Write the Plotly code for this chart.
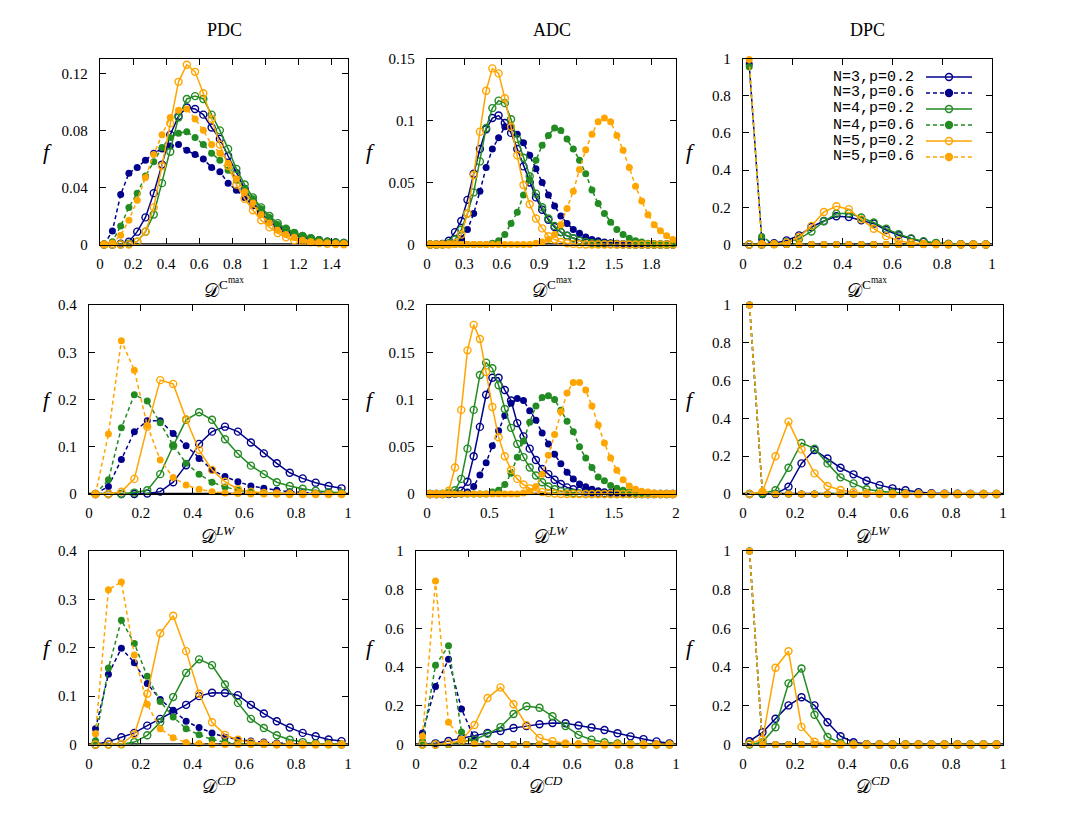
import plotly.graph_objects as go

W, H = 1090, 817

# ---------------- bin centres ----------------
x20 = [0.025, 0.075, 0.125, 0.175, 0.225, 0.275, 0.325, 0.375, 0.425, 0.475,
       0.525, 0.575, 0.625, 0.675, 0.725, 0.775, 0.825, 0.875, 0.925, 0.975]
x30 = x20 + [1.025, 1.075, 1.125, 1.175, 1.225, 1.275, 1.325, 1.375, 1.425, 1.475]
x40 = x30 + [1.525, 1.575, 1.625, 1.675, 1.725, 1.775, 1.825, 1.875, 1.925, 1.975]

series_names = ["N=3,p=0.2", "N=3,p=0.6", "N=4,p=0.2", "N=4,p=0.6", "N=5,p=0.2", "N=5,p=0.6"]
column_titles = ["PDC", "ADC", "DPC"]

# ---------------- row 1 : D^{C max} ----------------
pdc_cmax_n3_p02 = [0, 0, 0.0005, 0.002, 0.009, 0.019, 0.036, 0.056, 0.077, 0.090,
                   0.096, 0.095, 0.091, 0.082, 0.074, 0.062, 0.050, 0.039, 0.030, 0.022,
                   0.016, 0.012, 0.009, 0.007, 0.0055, 0.004, 0.003, 0.002, 0.0015, 0.001]
pdc_cmax_n3_p06 = [0, 0.0095, 0.035, 0.050, 0.054, 0.059, 0.064, 0.067, 0.069, 0.070,
                   0.066, 0.063, 0.060, 0.054, 0.051, 0.043, 0.038, 0.033, 0.027, 0.021,
                   0.016, 0.012, 0.009, 0.007, 0.005, 0.004, 0.003, 0.002, 0.0015, 0.001]
pdc_cmax_n4_p02 = [0, 0, 0, 0.0005, 0.002, 0.009, 0.021, 0.043, 0.065, 0.089,
                   0.102, 0.104, 0.102, 0.091, 0.080, 0.067, 0.053, 0.042, 0.033, 0.026,
                   0.020, 0.015, 0.011, 0.008, 0.006, 0.0045, 0.003, 0.002, 0.0015, 0.001]
pdc_cmax_n4_p06 = [0, 0.002, 0.013, 0.026, 0.036, 0.048, 0.058, 0.068, 0.075, 0.078,
                   0.079, 0.075, 0.070, 0.064, 0.059, 0.052, 0.045, 0.039, 0.032, 0.025,
                   0.019, 0.014, 0.011, 0.0085, 0.0063, 0.0045, 0.003, 0.002, 0.0015, 0.001]
pdc_cmax_n5_p02 = [0, 0, 0, 0, 0.002, 0.009, 0.026, 0.055, 0.085, 0.114,
                   0.126, 0.121, 0.106, 0.088, 0.070, 0.055, 0.042, 0.032, 0.024, 0.017,
                   0.012, 0.008, 0.005, 0.003, 0.002, 0.0015, 0.001, 0.0005, 0.0003, 0.0002]
pdc_cmax_n5_p06 = [0, 0.001, 0.0065, 0.017, 0.031, 0.047, 0.063, 0.077, 0.089, 0.094,
                   0.095, 0.088, 0.080, 0.070, 0.064, 0.057, 0.046, 0.037, 0.029, 0.021,
                   0.015, 0.010, 0.007, 0.005, 0.003, 0.002, 0.0015, 0.001, 0.0005, 0.0003]

adc_cmax_n3_p02 = [0, 0, 0.0005, 0.003, 0.010, 0.019, 0.036, 0.057, 0.077, 0.093,
                   0.102, 0.104, 0.098, 0.090, 0.077, 0.063, 0.050, 0.038, 0.028, 0.020,
                   0.014, 0.010, 0.007, 0.005, 0.0035, 0.0025, 0.0018, 0.0012, 0.0008, 0.0005,
                   0.0003, 0.0002, 0.0001, 0, 0, 0, 0, 0, 0, 0]
adc_cmax_n3_p06 = [0, 0, 0, 0, 0.001, 0.005, 0.012, 0.025, 0.043, 0.062,
                   0.077, 0.086, 0.095, 0.094, 0.089, 0.082, 0.072, 0.061, 0.050, 0.040,
                   0.031, 0.023, 0.017, 0.012, 0.009, 0.006, 0.004, 0.003, 0.002, 0.0015,
                   0.001, 0.0007, 0.0005, 0.0003, 0.0002, 0.0001, 0, 0, 0, 0]
adc_cmax_n4_p02 = [0, 0, 0, 0.001, 0.004, 0.012, 0.025, 0.042, 0.067, 0.094,
                   0.110, 0.116, 0.114, 0.101, 0.085, 0.070, 0.055, 0.041, 0.030, 0.021,
                   0.015, 0.010, 0.007, 0.005, 0.003, 0.002, 0.0013, 0.0008, 0.0005, 0.0003,
                   0.0002, 0.0001, 0, 0, 0, 0, 0, 0, 0, 0]
adc_cmax_n4_p06 = [0, 0, 0, 0, 0, 0, 0, 0, 0, 0,
                   0.001, 0.003, 0.008, 0.017, 0.026, 0.040, 0.052, 0.068, 0.080, 0.088,
                   0.094, 0.092, 0.085, 0.077, 0.068, 0.057, 0.044, 0.033, 0.025, 0.018,
                   0.012, 0.008, 0.005, 0.003, 0.002, 0.001, 0.0005, 0.0003, 0.0002, 0.0001]
adc_cmax_n5_p02 = [0, 0, 0, 0, 0.001, 0.008, 0.025, 0.056, 0.091, 0.124,
                   0.142, 0.138, 0.118, 0.095, 0.072, 0.048, 0.0325, 0.021, 0.013, 0.0067,
                   0.004, 0.002, 0.001, 0.0005, 0.0002, 0, 0, 0, 0, 0,
                   0, 0, 0, 0, 0, 0, 0, 0, 0, 0]
adc_cmax_n5_p06 = [0, 0, 0, 0, 0, 0, 0, 0, 0, 0,
                   0, 0, 0, 0, 0, 0, 0, 0.001, 0.002, 0.004,
                   0.008, 0.016, 0.029, 0.043, 0.0605, 0.0765, 0.089, 0.099, 0.102, 0.099,
                   0.088, 0.076, 0.062, 0.047, 0.035, 0.024, 0.016, 0.011, 0.007, 0.004]

dpc_cmax_n3_p02 = [0, 0, 0.007, 0.022, 0.049, 0.094, 0.126, 0.152, 0.148, 0.130,
                   0.112, 0.078, 0.050, 0.031, 0.014, 0.007, 0.003, 0.001, 0, 0]
dpc_cmax_n3_p06 = [0.97, 0.03, 0, 0, 0, 0, 0, 0, 0, 0, 0, 0, 0, 0, 0, 0, 0, 0, 0, 0]
dpc_cmax_n4_p02 = [0, 0, 0.003, 0.012, 0.030, 0.070, 0.125, 0.165, 0.168, 0.145,
                   0.118, 0.085, 0.056, 0.033, 0.018, 0.008, 0.003, 0.001, 0, 0]
dpc_cmax_n4_p06 = [0.955, 0.043, 0, 0, 0, 0, 0, 0, 0, 0, 0, 0, 0, 0, 0, 0, 0, 0, 0, 0]
dpc_cmax_n5_p02 = [0, 0, 0.001, 0.010, 0.040, 0.100, 0.175, 0.206, 0.190, 0.135,
                   0.085, 0.045, 0.020, 0.008, 0.003, 0.001, 0, 0, 0, 0]
dpc_cmax_n5_p06 = [0.995, 0.005, 0, 0, 0, 0, 0, 0, 0, 0, 0, 0, 0, 0, 0, 0, 0, 0, 0, 0]

# ---------------- row 2 : D^{LW} ----------------
pdc_lw_n3_p02 = [0, 0, 0, 0, 0.001, 0.005, 0.025, 0.061, 0.106, 0.132,
                 0.1425, 0.132, 0.109, 0.086, 0.065, 0.045, 0.033, 0.024, 0.017, 0.012]
pdc_lw_n3_p06 = [0, 0.016, 0.073, 0.132, 0.155, 0.155, 0.128, 0.102, 0.075, 0.051,
                 0.037, 0.026, 0.017, 0.012, 0.008, 0.005, 0.003, 0.002, 0.001, 0.0005]
pdc_lw_n4_p02 = [0, 0, 0, 0.003, 0.008, 0.042, 0.102, 0.157, 0.173, 0.157,
                 0.116, 0.085, 0.060, 0.042, 0.025, 0.017, 0.011, 0.007, 0.004, 0.002]
pdc_lw_n4_p06 = [0, 0.030, 0.140, 0.210, 0.197, 0.151, 0.103, 0.065, 0.042, 0.025,
                 0.015, 0.008, 0.004, 0.002, 0.001, 0.0005, 0, 0, 0, 0]
pdc_lw_n5_p02 = [0, 0, 0.005, 0.032, 0.142, 0.241, 0.233, 0.158, 0.093, 0.051,
                 0.026, 0.010, 0.005, 0.002, 0.001, 0, 0, 0, 0, 0]
pdc_lw_n5_p06 = [0, 0.127, 0.3245, 0.262, 0.145, 0.072, 0.035, 0.019, 0.010, 0.005,
                 0.002, 0.001, 0, 0, 0, 0, 0, 0, 0, 0]

adc_lw_n3_p02 = [0, 0, 0, 0, 0.0005, 0.0035, 0.013, 0.040, 0.071, 0.105,
                 0.123, 0.123, 0.110, 0.099, 0.075, 0.061, 0.048, 0.036, 0.0265, 0.021,
                 0.015, 0.0106, 0.007, 0.005, 0.0035, 0.0025, 0.0018, 0.0012, 0.0008, 0.0005,
                 0.0003, 0.0002, 0.0001, 0, 0, 0, 0, 0, 0, 0]
adc_lw_n3_p06 = [0, 0, 0, 0, 0, 0, 0.002, 0.008, 0.020, 0.033,
                 0.051, 0.067, 0.083, 0.096, 0.101, 0.099, 0.088, 0.078, 0.0645, 0.053,
                 0.042, 0.032, 0.023, 0.016, 0.0106, 0.0078, 0.005, 0.0035, 0.0025, 0.0015,
                 0.001, 0.0006, 0.0003, 0, 0, 0, 0, 0, 0, 0]
adc_lw_n4_p02 = [0, 0, 0, 0.001, 0.004, 0.016, 0.048, 0.089, 0.126, 0.139,
                 0.133, 0.115, 0.090, 0.070, 0.053, 0.039, 0.028, 0.0195, 0.0125, 0.008,
                 0.005, 0.003, 0.002, 0.001, 0.0005, 0, 0, 0, 0, 0,
                 0, 0, 0, 0, 0, 0, 0, 0, 0, 0]
adc_lw_n4_p06 = [0, 0, 0, 0, 0, 0, 0, 0, 0, 0,
                 0.002, 0.004, 0.010, 0.022, 0.039, 0.056, 0.076, 0.093, 0.102, 0.104,
                 0.100, 0.0887, 0.077, 0.066, 0.050, 0.038, 0.028, 0.018, 0.014, 0.009,
                 0.006, 0.004, 0.002, 0.001, 0.0005, 0, 0, 0, 0, 0]
adc_lw_n5_p02 = [0, 0, 0, 0.0035, 0.028, 0.089, 0.152, 0.179, 0.164, 0.129,
                 0.092, 0.060, 0.040, 0.0255, 0.016, 0.010, 0.006, 0.0035, 0.002, 0.001,
                 0.0005, 0, 0, 0, 0, 0, 0, 0, 0, 0,
                 0, 0, 0, 0, 0, 0, 0, 0, 0, 0]
adc_lw_n5_p06 = [0, 0, 0, 0, 0, 0, 0, 0, 0, 0,
                 0, 0, 0, 0, 0, 0.001, 0.003, 0.008, 0.021, 0.041,
                 0.063, 0.087, 0.107, 0.118, 0.118, 0.110, 0.093, 0.073, 0.054, 0.038,
                 0.025, 0.015, 0.0085, 0.005, 0.003, 0.002, 0.001, 0.0005, 0, 0]

dpc_lw_n3_p02 = [0, 0, 0, 0.038, 0.162, 0.233, 0.188, 0.139, 0.104, 0.070,
                 0.047, 0.030, 0.020, 0.010, 0.004, 0.002, 0.001, 0, 0, 0]
dpc_lw_n3_p06 = [1.0, 0, 0, 0, 0, 0, 0, 0, 0, 0, 0, 0, 0, 0, 0, 0, 0, 0, 0, 0]
dpc_lw_n4_p02 = [0, 0.003, 0.020, 0.139, 0.270, 0.240, 0.162, 0.088, 0.056, 0.025,
                 0.014, 0.007, 0.003, 0.001, 0, 0, 0, 0, 0, 0]
dpc_lw_n4_p06 = [1.0, 0, 0, 0, 0, 0, 0, 0, 0, 0, 0, 0, 0, 0, 0, 0, 0, 0, 0, 0]
dpc_lw_n5_p02 = [0, 0.012, 0.200, 0.383, 0.236, 0.109, 0.042, 0.021, 0.009, 0.004,
                 0.002, 0, 0, 0, 0, 0, 0, 0, 0, 0]
dpc_lw_n5_p06 = [1.0, 0.012, 0, 0, 0, 0, 0, 0, 0, 0, 0, 0, 0, 0, 0, 0, 0, 0, 0, 0]

# ---------------- row 3 : D^{CD} ----------------
pdc_cd_n3_p02 = [0, 0.006, 0.015, 0.024, 0.039, 0.053, 0.067, 0.082, 0.100, 0.107,
                 0.1066, 0.102, 0.082, 0.064, 0.048, 0.035, 0.024, 0.017, 0.0104, 0.007]
pdc_cd_n3_p06 = [0.0325, 0.145, 0.199, 0.169, 0.126, 0.093, 0.071, 0.048, 0.035, 0.024,
                 0.015, 0.0104, 0.007, 0.005, 0.003, 0.002, 0.001, 0.0005, 0, 0]
pdc_cd_n4_p02 = [0, 0, 0.0007, 0.005, 0.019, 0.046, 0.098, 0.148, 0.176, 0.164,
                 0.124, 0.086, 0.053, 0.034, 0.019, 0.0097, 0.005, 0.002, 0.001, 0]
pdc_cd_n4_p06 = [0.008, 0.158, 0.257, 0.209, 0.141, 0.089, 0.057, 0.0325, 0.020, 0.0104,
                 0.005, 0.002, 0.001, 0, 0, 0, 0, 0, 0, 0]
pdc_cd_n5_p02 = [0, 0, 0.001, 0.021, 0.105, 0.230, 0.266, 0.193, 0.105, 0.046,
                 0.020, 0.0097, 0.004, 0.002, 0, 0, 0, 0, 0, 0]
pdc_cd_n5_p06 = [0.022, 0.320, 0.336, 0.185, 0.083, 0.0325, 0.014, 0.004, 0.002, 0,
                 0, 0, 0, 0, 0, 0, 0, 0, 0, 0]

adc_cd_n3_p02 = [0.002, 0.006, 0.018, 0.033, 0.047, 0.060, 0.070, 0.085, 0.095, 0.105,
                 0.111, 0.110, 0.098, 0.088, 0.075, 0.058, 0.042, 0.028, 0.016, 0.006]
adc_cd_n3_p06 = [0.060, 0.300, 0.440, 0.184, 0.030, 0.003, 0, 0, 0, 0,
                 0, 0, 0, 0, 0, 0, 0, 0, 0, 0]
adc_cd_n4_p02 = [0, 0, 0.003, 0.015, 0.025, 0.055, 0.090, 0.158, 0.198, 0.190,
                 0.146, 0.095, 0.050, 0.025, 0.012, 0.005, 0.002, 0, 0, 0]
adc_cd_n4_p06 = [0.017, 0.409, 0.510, 0.065, 0.005, 0, 0, 0, 0, 0,
                 0, 0, 0, 0, 0, 0, 0, 0, 0, 0]
adc_cd_n5_p02 = [0, 0, 0.005, 0.020, 0.101, 0.240, 0.295, 0.208, 0.100, 0.034,
                 0.017, 0.005, 0.001, 0, 0, 0, 0, 0, 0, 0]
adc_cd_n5_p06 = [0.043, 0.845, 0.115, 0.026, 0.004, 0, 0, 0, 0, 0,
                 0, 0, 0, 0, 0, 0, 0, 0, 0, 0]

dpc_cd_n3_p02 = [0.017, 0.063, 0.133, 0.202, 0.244, 0.202, 0.115, 0.043, 0.012, 0.002,
                 0, 0, 0, 0, 0, 0, 0, 0, 0, 0]
dpc_cd_n3_p06 = [1.0, 0, 0, 0, 0, 0, 0, 0, 0, 0, 0, 0, 0, 0, 0, 0, 0, 0, 0, 0]
dpc_cd_n4_p02 = [0, 0.012, 0.089, 0.316, 0.393, 0.154, 0.039, 0.008, 0.001, 0,
                 0, 0, 0, 0, 0, 0, 0, 0, 0, 0]
dpc_cd_n4_p06 = [1.0, 0, 0, 0, 0, 0, 0, 0, 0, 0, 0, 0, 0, 0, 0, 0, 0, 0, 0, 0]
dpc_cd_n5_p02 = [0.005, 0.026, 0.397, 0.482, 0.091, 0.014, 0.002, 0, 0, 0,
                 0, 0, 0, 0, 0, 0, 0, 0, 0, 0]
dpc_cd_n5_p06 = [1.0, 0, 0, 0, 0, 0, 0, 0, 0, 0, 0, 0, 0, 0, 0, 0, 0, 0, 0, 0]

# ---------------- styling ----------------
NAVY, GREEN, ORANGE = "#00008b", "#228b22", "#ffa500"
styles = [(NAVY, "solid", True), (NAVY, "4px,3px", False),
          (GREEN, "solid", True), (GREEN, "4px,3px", False),
          (ORANGE, "solid", True), (ORANGE, "4px,3px", False)]
SERIF = "Liberation Serif"
MONO = "Liberation Mono"

# panel: x, series, xrange, xdtick, yrange, ydtick, pixel box (l, r, t, b)
panels = [
    (x30, [pdc_cmax_n3_p02, pdc_cmax_n3_p06, pdc_cmax_n4_p02, pdc_cmax_n4_p06, pdc_cmax_n5_p02, pdc_cmax_n5_p06],
     [0, 1.5], 0.2, [0, 0.13], 0.04, (100, 348, 59, 244.5)),
    (x40, [adc_cmax_n3_p02, adc_cmax_n3_p06, adc_cmax_n4_p02, adc_cmax_n4_p06, adc_cmax_n5_p02, adc_cmax_n5_p06],
     [0, 2], 0.3, [0, 0.15], 0.05, (427, 676, 58.5, 244.5)),
    (x20, [dpc_cmax_n3_p02, dpc_cmax_n3_p06, dpc_cmax_n4_p02, dpc_cmax_n4_p06, dpc_cmax_n5_p02, dpc_cmax_n5_p06],
     [0, 1], 0.2, [0, 1], 0.2, (743, 992, 58.5, 244.5)),
    (x20, [pdc_lw_n3_p02, pdc_lw_n3_p06, pdc_lw_n4_p02, pdc_lw_n4_p06, pdc_lw_n5_p02, pdc_lw_n5_p06],
     [0, 1], 0.2, [0, 0.4], 0.1, (89, 348, 305, 494)),
    (x40, [adc_lw_n3_p02, adc_lw_n3_p06, adc_lw_n4_p02, adc_lw_n4_p06, adc_lw_n5_p02, adc_lw_n5_p06],
     [0, 2], 0.5, [0, 0.2], 0.05, (427, 676, 305, 494)),
    (x20, [dpc_lw_n3_p02, dpc_lw_n3_p06, dpc_lw_n4_p02, dpc_lw_n4_p06, dpc_lw_n5_p02, dpc_lw_n5_p06],
     [0, 1], 0.2, [0, 1], 0.2, (743, 1003, 305, 494)),
    (x20, [pdc_cd_n3_p02, pdc_cd_n3_p06, pdc_cd_n4_p02, pdc_cd_n4_p06, pdc_cd_n5_p02, pdc_cd_n5_p06],
     [0, 1], 0.2, [0, 0.4], 0.1, (89, 348, 551, 744.5)),
    (x20, [adc_cd_n3_p02, adc_cd_n3_p06, adc_cd_n4_p02, adc_cd_n4_p06, adc_cd_n5_p02, adc_cd_n5_p06],
     [0, 1], 0.2, [0, 1], 0.2, (416, 676, 551, 744.5)),
    (x20, [dpc_cd_n3_p02, dpc_cd_n3_p06, dpc_cd_n4_p02, dpc_cd_n4_p06, dpc_cd_n5_p02, dpc_cd_n5_p06],
     [0, 1], 0.2, [0, 1], 0.2, (743, 1003, 551, 744.5)),
]

row_labels = ["𝒟<sup>C<sup>max</sup></sup>", "𝒟<sup><i>LW</i></sup>", "𝒟<sup><i>CD</i></sup>"]
row_label_y = [288, 535, 785]
f_label_x = [47, 370, 690]


def px(v):
    return v / W


def py(v):
    return 1 - v / H


fig = go.Figure()
layout = dict(width=W, height=H, margin=dict(l=0, r=0, t=0, b=0, pad=0, autoexpand=False),
              autosize=False, paper_bgcolor="white", plot_bgcolor="white", showlegend=False)
annotations = []
shapes = []

axis_common = dict(showline=True, linecolor="black", linewidth=1.3, mirror="ticks",
                   ticks="inside", ticklen=6, tickwidth=1, tickcolor="black",
                   showgrid=False, zeroline=False, tickmode="linear", tick0=0,
                   automargin=False,
                   tickfont=dict(family=SERIF, size=15, color="black"))

for k, (xs, ser, xr, xd, yr, yd, box) in enumerate(panels):
    n = k + 1
    sfx = "" if n == 1 else str(n)
    l, r, t, b = box
    for name, ys, (col, dash, is_open) in zip(series_names, ser, styles):
        marker = dict(size=7, color=col, symbol="circle-open" if is_open else "circle",
                      line=dict(width=1.4 if is_open else 0, color=col))
        fig.add_trace(go.Scatter(x=xs, y=ys, name=name, mode="lines+markers",
                                 line=dict(color=col, width=1.5, dash=dash),
                                 marker=marker, cliponaxis=False,
                                 xaxis="x" + sfx, yaxis="y" + sfx))
    layout["xaxis" + sfx] = dict(axis_common, domain=[px(l), px(r)], range=xr, dtick=xd,
                                 anchor="y" + sfx, ticklabelstandoff=5)
    layout["yaxis" + sfx] = dict(axis_common, domain=[py(b), py(t)], range=yr, dtick=yd,
                                 anchor="x" + sfx, ticklabelstandoff=8)
    # thick zero axis
    shapes.append(dict(type="line", xref="x" + sfx + " domain", x0=0, x1=1,
                       yref="y" + sfx, y0=0, y1=0, line=dict(color="black", width=2.4),
                       layer="below"))
    row, colidx = divmod(k, 3)
    cx = (l + r) / 2
    if row == 0:
        annotations.append(dict(text=column_titles[colidx], x=px(cx), y=py(30), xref="paper", yref="paper",
                                xanchor="center", yanchor="middle", showarrow=False,
                                font=dict(family=SERIF, size=18, color="black")))
    annotations.append(dict(text=row_labels[row], x=px(cx), y=py(row_label_y[row]), xref="paper",
                            yref="paper", xanchor="center", yanchor="middle", showarrow=False,
                            font=dict(family=SERIF, size=19, color="black")))
    annotations.append(dict(text="<i>f</i>", x=px(f_label_x[colidx]), y=py((t + b) / 2), xref="paper",
                            yref="paper", xanchor="center", yanchor="middle", showarrow=False,
                            font=dict(family=SERIF, size=22, color="black")))

# manual legend (text left, key right) inside DPC top panel
for j, (name, (col, dash, is_open)) in enumerate(zip(series_names, styles)):
    yy = py(77 + 16 * j)
    annotations.append(dict(text=name, x=px(916), y=yy, xref="paper", yref="paper",
                            xanchor="right", yanchor="middle", showarrow=False,
                            font=dict(family=MONO, size=15, color="black")))
    shapes.append(dict(type="line", xref="paper", yref="paper", x0=px(926), x1=px(972),
                       y0=yy, y1=yy, line=dict(color=col, width=1.5, dash=dash)))
    shapes.append(dict(type="circle", xref="paper", yref="paper", xsizemode="pixel",
                       ysizemode="pixel", xanchor=px(949), yanchor=yy,
                       x0=-3.5, x1=3.5, y0=-3.5, y1=3.5,
                       line=dict(color=col, width=1.4),
                       fillcolor="rgba(0,0,0,0)" if is_open else col))

layout["annotations"] = annotations
layout["shapes"] = shapes
fig.update_layout(**layout)
fig.write_html("out.html", config={"displayModeBar": False},
               post_script="document.body.style.margin='0px';document.body.style.overflow='hidden';")
